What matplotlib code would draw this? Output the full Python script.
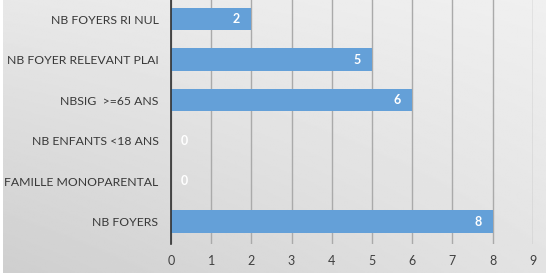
import matplotlib
matplotlib.use("Agg")
import matplotlib.pyplot as plt
import numpy as np

categories = ["NB FOYERS RI NUL", "NB FOYER RELEVANT PLAI", "NBSIG  >=65 ANS",
              "NB ENFANTS <18 ANS", "FAMILLE MONOPARENTAL", "NB FOYERS"]
values = [2, 5, 6, 0, 0, 8]
xticks = list(range(0, 10))

plt.rcParams['font.family'] = ['Lato', 'DejaVu Sans']

fig = plt.figure(figsize=(5.46, 2.73), dpi=100)
fig.patch.set_facecolor('white')
# gradient background
bg = fig.add_axes([0.006, 0, 0.994, 1], zorder=-10)
yy, xx = np.mgrid[0:1:200j, 0:1:200j]
tl, tr, bl, br = 0.91, 0.94, 0.81, 0.89
grad = (tl * (1 - xx) * (1 - yy) + tr * xx * (1 - yy)
        + bl * (1 - xx) * yy + br * xx * yy)
bg.imshow(grad, cmap='gray', vmin=0, vmax=1, aspect='auto', extent=[0, 1, 0, 1])
bg.axis('off')

ax = fig.add_axes([0.313, 0.107, 0.663, 0.905])
ax.patch.set_alpha(0)
ypos = np.arange(len(categories))
ax.barh(ypos, values, height=0.55, color='#64a0d8', zorder=3)
ax.set_ylim(len(categories) - 0.45, -0.55)
ax.set_xlim(0, 9)
ax.set_xticks(xticks)
ax.set_xticklabels([str(t) for t in xticks], fontsize=9, color='#404040')
ax.set_yticks(ypos)
ax.set_yticklabels(categories, fontsize=8.8, color='#383838')
ax.tick_params(axis='y', length=0, pad=9)
ax.tick_params(axis='x', length=0, pad=8)
ax.grid(axis='x', color='#aaaaaa', linewidth=1.0, zorder=0)
for s in ['top', 'right', 'bottom']:
    ax.spines[s].set_visible(False)
ax.spines['left'].set_color('#303030')
ax.spines['left'].set_linewidth(1.2)
ax.spines['left'].set_zorder(4)

for y, v in zip(ypos, values):
    if v > 0:
        ax.annotate(str(v), (v, y), xytext=(-8, 0), textcoords='offset points',
                    ha='right', va='center', color='white', fontsize=9, fontweight='bold', zorder=5)
    else:
        ax.annotate(str(v), (v, y), xytext=(7, 0), textcoords='offset points',
                    ha='left', va='center', color='white', fontsize=9, fontweight='bold', zorder=5)

fig.savefig("out.png", dpi=100, facecolor='white')
